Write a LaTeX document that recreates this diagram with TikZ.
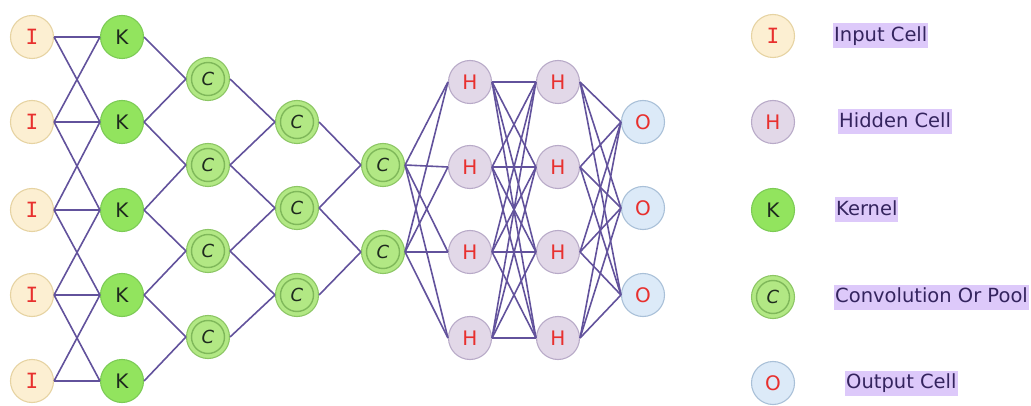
\documentclass[tikz,border=0pt]{standalone}
\usepackage{fontspec}
\setmainfont{DejaVu Sans}
\newfontfamily\monofont{DejaVu Sans Mono}
\definecolor{ifill}{HTML}{FCEFD2}
\definecolor{iline}{HTML}{E6D3A2}
\definecolor{kfill}{HTML}{92E45E}
\definecolor{kline}{HTML}{7CCB55}
\definecolor{cfill}{HTML}{B2E884}
\definecolor{cline}{HTML}{8CC664}
\definecolor{cring}{HTML}{7FB85A}
\definecolor{hfill}{HTML}{E2D8E8}
\definecolor{hline}{HTML}{B8AAC8}
\definecolor{ofill}{HTML}{DCEAF8}
\definecolor{oline}{HTML}{A9C0D8}
\definecolor{redtxt}{HTML}{E8302E}
\definecolor{darktxt}{HTML}{1E2A1E}
\definecolor{edgecol}{HTML}{62529C}
\definecolor{labbg}{HTML}{DDC9FA}
\definecolor{labtxt}{HTML}{34245E}
\begin{document}
\begin{tikzpicture}[x=1pt,y=-1pt,
  cell/.style={circle, minimum size=43pt, inner sep=0pt, line width=1.1pt,
    font=\fontsize{20}{20}\selectfont},
  icell/.style={cell, fill=ifill, draw=iline, text=redtxt, font=\monofont\fontsize{21}{21}\selectfont},
  kcell/.style={cell, fill=kfill, draw=kline, text=darktxt},
  ccell/.style={cell, fill=cfill, draw=cline, text=darktxt,
    font=\itshape\fontsize{18}{18}\selectfont,
    path picture={\draw[cring, line width=1.4pt] (path picture bounding box.center) circle (16.5pt);}},
  hcell/.style={cell, fill=hfill, draw=hline, text=redtxt},
  ocell/.style={cell, fill=ofill, draw=oline, text=redtxt},
  edge/.style={draw=edgecol, line width=1.6pt},
  lab/.style={anchor=west, fill=labbg, text=labtxt, inner xsep=1pt, inner ysep=3pt,
    text height=15pt, text depth=4pt, font=\fontsize{19.5}{20}\selectfont}
]
\useasboundingbox (0,0) rectangle (1031,406);
% input and kernel columns
\foreach \i/\y in {1/37,2/122,3/210,4/295,5/381}{
  \node[icell] (I\i) at (32,\y) {I};
  \node[kcell] (K\i) at (122,\y) {K};
}
% conv columns
\foreach \i/\y in {1/79,2/165,3/251,4/337}{
  \node[ccell] (Ca\i) at (208,\y) {C};
}
\foreach \i/\y in {1/122,2/208,3/295}{
  \node[ccell] (Cb\i) at (297,\y) {C};
}
\foreach \i/\y in {1/165,2/252}{
  \node[ccell] (Cc\i) at (383,\y) {C};
}
% hidden
\foreach \i/\y in {1/82,2/167,3/252,4/338}{
  \node[hcell] (Ha\i) at (470,\y) {H};
  \node[hcell] (Hb\i) at (558,\y) {H};
}
% output
\foreach \i/\y in {1/122,2/208,3/295}{
  \node[ocell] (O\i) at (643,\y) {O};
}
% edges
\foreach \a/\b in {1/1,1/2,2/1,2/2,2/3,3/2,3/3,3/4,4/3,4/4,4/5,5/4,5/5}{
  \draw[edge] (I\a.east) -- (K\b.west);
}
\foreach \a/\b in {1/1,2/1,2/2,3/2,3/3,4/3,4/4,5/4}{
  \draw[edge] (K\a.east) -- (Ca\b.west);
}
\foreach \a/\b in {1/1,2/1,2/2,3/2,3/3,4/3}{
  \draw[edge] (Ca\a.east) -- (Cb\b.west);
}
\foreach \a/\b in {1/1,2/1,2/2,3/2}{
  \draw[edge] (Cb\a.east) -- (Cc\b.west);
}
\foreach \a in {1,2}{\foreach \b in {1,2,3,4}{
  \draw[edge] (Cc\a.east) -- (Ha\b.west);
}}
\foreach \a in {1,2,3,4}{\foreach \b in {1,2,3,4}{
  \draw[edge] (Ha\a.east) -- (Hb\b.west);
}}
\foreach \a in {1,2,3,4}{\foreach \b in {1,2,3}{
  \draw[edge] (Hb\a.east) -- (O\b.west);
}}
% legend
\node[icell] (LI) at (773,36) {I};
\node[hcell] (LH) at (773,122) {H};
\node[kcell] (LK) at (773,210) {K};
\node[ccell] (LC) at (773,297) {C};
\node[ocell] (LO) at (773,383) {O};
\node[lab] (TI) at (833,36) {Input Cell};
\node[lab] (TH) at (838,122) {Hidden Cell};
\node[lab] (TK) at (835,210) {Kernel};
\node[lab] (TC) at (834,297) {Convolution Or Pool};
\node[lab] (TO) at (845,383) {Output Cell};
\end{tikzpicture}
\end{document}
